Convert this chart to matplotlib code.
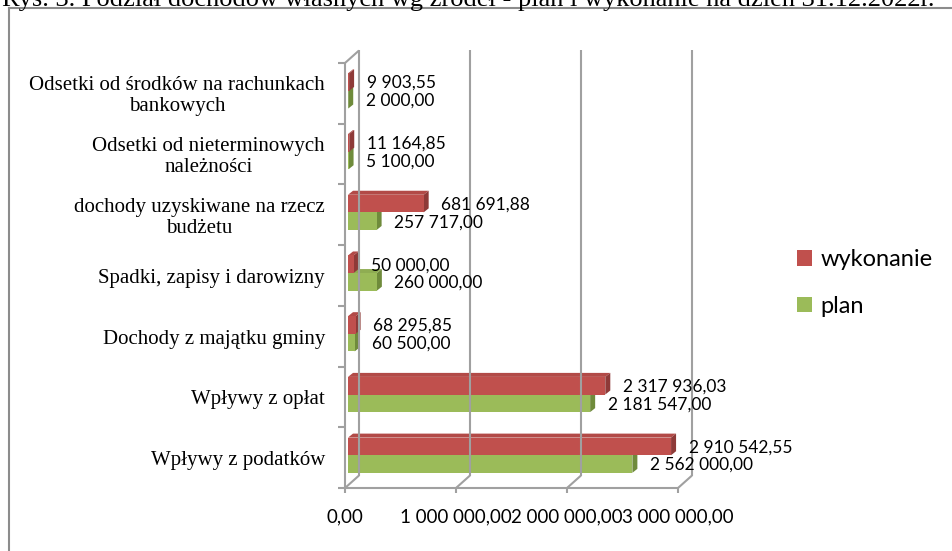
import matplotlib
matplotlib.use("Agg")
import matplotlib.pyplot as plt
from matplotlib.patches import Polygon, Patch
from matplotlib.lines import Line2D

# data (bottom -> top)
categories = ["Wpływy z podatków", "Wpływy z opłat", "Dochody z majątku gminy",
              "Spadki, zapisy i darowizny", "dochody uzyskiwane na rzecz\nbudżetu",
              "Odsetki od nieterminowych\nnależności",
              "Odsetki od środków na rachunkach\nbankowych"]
wykonanie = [2910542.55, 2317936.03, 68295.85, 50000.00, 681691.88, 11164.85, 9903.55]
plan = [2562000.00, 2181547.00, 60500.00, 260000.00, 257717.00, 5100.00, 2000.00]
xticks = [0, 1000000, 2000000, 3000000]
title = "Rys. 3. Podział dochodów własnych wg źródeł - plan i wykonanie na dzień 31.12.2022r."

RED, RED_SIDE, RED_TOP = "#c0504d", "#8e3a38", "#b24a47"
GREEN, GREEN_SIDE, GREEN_TOP = "#9bbb59", "#6f8b3b", "#8fad52"
GRID = "#a0a0a0"


def fmt(v):
    return f"{v:,.2f}".replace(",", " ").replace(".", ",")


W, H = 953, 551
fig = plt.figure(figsize=(W / 100, H / 100), dpi=100)
ax = fig.add_axes([345 / W, 1 - 488 / H, 333 / W, 425 / H])
ax.set_xlim(0, 3e6)
ax.set_ylim(0, 7)
ax.axis("off")

PX = 3e6 / 333   # data units per pixel
PY = 7 / 425
DX, DY = 14 * PX, 12.5 * PY   # wall depth

# walls / grid
lk = dict(color=GRID, lw=1.5, clip_on=False, solid_capstyle="butt")
for v in xticks:
    ax.plot([v, v + DX], [0, DY], **lk)
    ax.plot([v + DX, v + DX], [DY, 7 + DY], **lk)
    ax.plot([v, v], [0, -5 * PY], **lk)
ax.plot([0, 0], [0, 7], **lk)
ax.plot([0, DX], [7, 7 + DY], **lk)
ax.plot([0, 3e6], [0, 0], **lk)
for i in range(8):
    ax.plot([-7 * PX, 0], [i, i], **lk)

# bars
x0 = 3 * PX
bh = 0.29
bdx, bdy = 5 * PX, 4 * PY


def bar3d(v, y0, front, side, top):
    y1 = y0 + bh
    ax.add_patch(Polygon([(x0, y1), (x0 + v, y1), (x0 + v + bdx, y1 + bdy), (x0 + bdx, y1 + bdy)],
                         closed=True, fc=top, ec="none", clip_on=False))
    ax.add_patch(Polygon([(x0 + v, y0), (x0 + v + bdx, y0 + bdy), (x0 + v + bdx, y1 + bdy), (x0 + v, y1)],
                         closed=True, fc=side, ec="none", clip_on=False))
    ax.add_patch(Polygon([(x0, y0), (x0 + v, y0), (x0 + v, y1), (x0, y1)],
                         closed=True, fc=front, ec="none", clip_on=False))


lab = dict(family="Lato", fontsize=12.5, ha="left", va="center", clip_on=False)
for i, (pv, wv) in enumerate(zip(plan, wykonanie)):
    yg = i + 0.25
    yr = i + 0.54
    bar3d(pv, yg, GREEN, GREEN_SIDE, GREEN_TOP)
    bar3d(wv, yr, RED, RED_SIDE, RED_TOP)
    ax.text(x0 + wv + 17.5 * PX, yr + bh / 2 - 1 * PY, fmt(wv), **lab)
    ax.text(x0 + pv + 17.5 * PX, yg + bh / 2 - 1 * PY, fmt(pv), **lab)
    ax.text(-20 * PX, i + 0.5 - 3 * PY, categories[i], ha="right", va="center",
            multialignment="center", family="Liberation Serif", fontsize=15,
            linespacing=1.15, clip_on=False)

for v in xticks:
    ax.text(v, -29 * PY, fmt(v), ha="center", va="center", family="Lato",
            fontsize=13.5, clip_on=False)

# legend
handles = [Patch(fc=RED, ec="none"), Patch(fc=GREEN, ec="none")]
fig.legend(handles, ["wykonanie", "plan"], loc="center left",
           bbox_to_anchor=(797 / W, 1 - 283 / H), frameon=False,
           prop=dict(family="Lato", size=17), handlelength=0.64, handleheight=0.64,
           handletextpad=0.34, labelspacing=1.1, borderpad=0, borderaxespad=0)

# chart border and caption (cut off at the top edge, as in the source)
fig.add_artist(Line2D([9 / W, 9 / W], [0, 1 - 8 / H], color="#8c8c8c", lw=1.5,
                      transform=fig.transFigure))
fig.add_artist(Line2D([9 / W, 1], [1 - 8 / H, 1 - 8 / H], color="#8c8c8c", lw=1.5,
                      transform=fig.transFigure))
fig.text(2 / W, 1 - 6 / H, title, ha="left", va="baseline",
         family="Liberation Serif", fontsize=19)

fig.savefig("out.png", dpi=100)
